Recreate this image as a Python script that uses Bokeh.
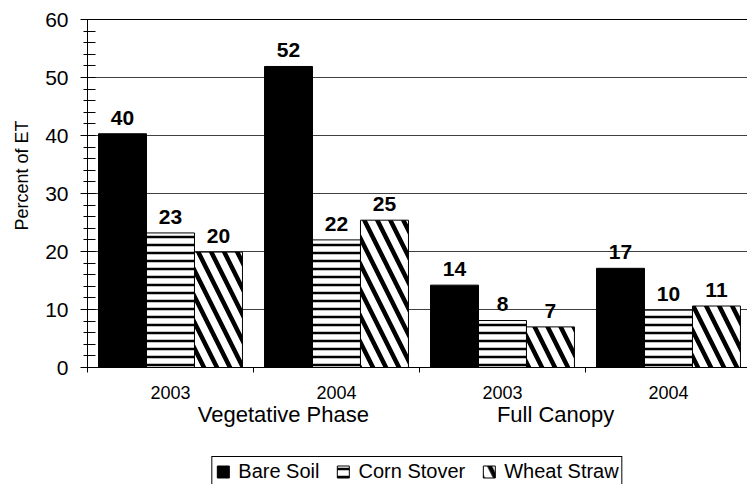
import numpy as np
from bokeh.plotting import figure
from bokeh.layouts import column
from bokeh.models import (Range1d, LinearAxis, FixedTicker, SingleIntervalTicker,
                          ColumnDataSource, Legend, LegendItem, Grid, Title)
from bokeh.core.properties import value
from bokeh.transform import dodge
from bokeh.embed import file_html
from bokeh.resources import INLINE

# ---- data ----
years = ["2003", "2004", "2003", "2004"]
phases = ["Vegetative Phase", "Full Canopy"]
series = ["Bare Soil", "Corn Stover", "Wheat Straw"]
bare_soil = [40.3, 51.9, 14.2, 17.1]
corn_stover = [23.2, 22.0, 8.1, 9.9]
wheat_straw = [19.9, 25.4, 7.0, 10.6]
y_ticks_interval = 10
y_title = "Percent of ET"

FONT = "Liberation Sans"
n_groups = len(years)
bar_w = 0.289
phase_shift = 0.18
label_gap = 2.8  # value-label lift above bar top (data units)

p = figure(width=747, height=456, output_backend="svg", toolbar_location=None,
           x_range=Range1d(0, 3.976), y_range=Range1d(0, 60),
           min_border_left=87, min_border_right=0, min_border_top=19,
           min_border_bottom=89, x_axis_type=None, y_axis_type=None)
p.outline_line_color = None
p.background_fill_color = "white"
p.border_fill_color = "white"

# grid
p.add_layout(Grid(dimension=1, ticker=SingleIntervalTicker(interval=y_ticks_interval),
                  grid_line_color="#404040", grid_line_width=1))

# y axis
yax = LinearAxis(ticker=SingleIntervalTicker(interval=y_ticks_interval, num_minor_ticks=5))
yax.major_tick_out = 7
yax.major_tick_in = 0
yax.minor_tick_out = 4
yax.minor_tick_in = 8
yax.major_tick_line_color = "black"
yax.minor_tick_line_color = "black"
yax.axis_line_color = "black"
yax.major_label_text_font = FONT
yax.major_label_text_font_size = "21px"
yax.major_label_text_color = "black"
yax.major_label_standoff = 12
p.add_layout(yax, "left")

# y title (side-panel title, lifted above the frame centre like the original)
p.add_layout(Title(text=y_title, align="left", offset=137, vertical_align="top",
                   standoff=18, text_font=FONT, text_font_size="18px",
                   text_font_style="normal", text_color="black"), "left")

# top line
tax = LinearAxis(ticker=FixedTicker(ticks=[]), axis_line_color="black",
                 major_tick_out=0, major_tick_in=0, minor_tick_out=0, minor_tick_in=0,
                 major_label_text_font_size="0px")
p.add_layout(tax, "above")

# x axis: years
centers = [i + 0.5 for i in range(n_groups)]
xax = LinearAxis(ticker=FixedTicker(ticks=centers, minor_ticks=list(range(n_groups + 1))))
xax.major_label_overrides = {c: y for c, y in zip(centers, years)}
xax.major_tick_out = 0
xax.major_tick_in = 0
xax.minor_tick_out = 5
xax.minor_tick_in = 0
xax.minor_tick_line_color = "black"
xax.axis_line_color = "black"
xax.major_label_text_font = FONT
xax.major_label_text_font_size = "18px"
xax.major_label_text_color = "black"
xax.major_label_standoff = 13
p.add_layout(xax, "below")

# x axis: phases
phase_pos = [1.0 + phase_shift, 3.0 - phase_shift]
pax = LinearAxis(ticker=FixedTicker(ticks=phase_pos, minor_ticks=[]))
pax.major_label_overrides = {c: s for c, s in zip(phase_pos, phases)}
pax.axis_line_color = None
pax.major_tick_line_color = None
pax.minor_tick_line_color = None
pax.major_tick_out = 0
pax.major_tick_in = 0
pax.major_label_standoff = 0
pax.major_label_text_font = FONT
pax.major_label_text_font_size = "22px"
pax.major_label_text_color = "black"
p.add_layout(pax, "below")

# bars
values = [bare_soil, corn_stover, wheat_straw]
styles = [
    dict(fill_color="black"),
    dict(fill_color="white", hatch_pattern="horizontal_line", hatch_scale=8,
         hatch_weight=2.5, hatch_color="black"),
    dict(fill_color="white", hatch_pattern="left_diagonal_line", hatch_scale=26,
         hatch_weight=4.5, hatch_color="black"),
]
sources = []
for j, (vals, st) in enumerate(zip(values, styles)):
    xs = [c + (j - 1) * bar_w for c in centers]
    src = ColumnDataSource(dict(x=xs, top=vals,
                                label=[str(int(round(v))) for v in vals]))
    sources.append(src)
    p.vbar(x="x", top="top", bottom=0, width=bar_w, source=src,
           line_color="black", line_width=1, **st)
    p.text(x="x", y=dodge("top", label_gap), text="label", source=src,
           text_align="center", text_baseline="alphabetic",
           text_font=value(FONT), text_font_style="bold",
           text_font_size="21px", text_color="black")

# legend strip: same bars, drawn out of view, used only for the legend keys
leg = figure(width=747, height=28, output_backend="svg", toolbar_location=None,
             x_range=Range1d(-2, -1), y_range=Range1d(0, 1),
             min_border_left=87, min_border_right=0, min_border_top=0,
             min_border_bottom=0, x_axis_type=None, y_axis_type=None)
leg.outline_line_color = None
leg.grid.visible = False
key_renderers = []
for src, st in zip(sources, styles):
    key_renderers.append(leg.vbar(x="x", top="top", bottom=0, width=bar_w, source=src,
                                  line_color="black", line_width=1, **st))
legend = Legend(items=[LegendItem(label=s, renderers=[r])
                       for s, r in zip(series, key_renderers)],
                orientation="horizontal", location="top_center",
                label_text_font=FONT, label_text_font_size="20px",
                label_text_color="black",
                glyph_width=15, glyph_height=15, label_height=20, label_standoff=8,
                spacing=16, padding=3, border_line_color="black", border_line_alpha=1,
                border_line_width=1, background_fill_alpha=1, margin=0)
leg.add_layout(legend, "center")

open("out.html", "w").write(file_html(column(p, leg, spacing=0), INLINE))
